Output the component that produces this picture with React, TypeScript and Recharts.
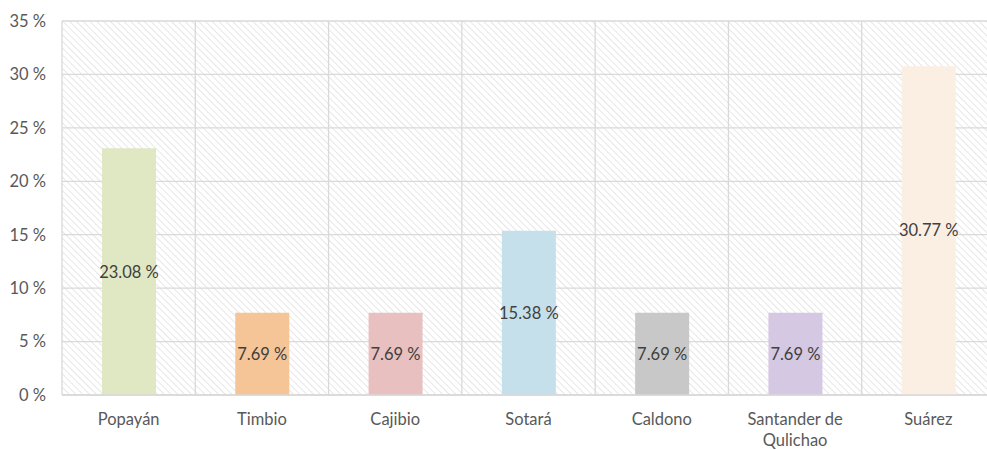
import React from "react";
import { BarChart, Bar, XAxis, YAxis, CartesianGrid, Cell, LabelList } from "recharts";

const categories = ["Popayán", "Timbio", "Cajibio", "Sotará", "Caldono", "Santander de Qulichao", "Suárez"];
const values = [23.08, 7.69, 7.69, 15.38, 7.69, 7.69, 30.77];
const colors = ["#DFE7C3", "#F5C497", "#E8C0BF", "#C5E0EA", "#C8C8C8", "#D5C8E2", "#FBEEE3"];
const yTicks = [0, 5, 10, 15, 20, 25, 30, 35];

const data = categories.map((name, i) => ({ name, value: values[i] }));

const FONT = "Lato, 'Open Sans', sans-serif";

function wrapWords(text: string, maxChars: number): string[] {
  const words = text.split(" ");
  const lines: string[] = [];
  let cur = "";
  for (const w of words) {
    const next = cur ? cur + " " + w : w;
    if (next.length > maxChars && cur) {
      lines.push(cur);
      cur = w;
    } else {
      cur = next;
    }
  }
  if (cur) lines.push(cur);
  return lines;
}

const XTick = (props: any) => {
  const { x, y, payload } = props;
  const lines = wrapWords(String(payload.value), 14);
  return (
    <text x={x} y={y} textAnchor="middle" fill="#595959" fontSize={16.5} fontFamily={FONT}>
      {lines.map((l, i) => (
        <tspan key={i} x={x} dy={i === 0 ? 30 : 21}>
          {l}
        </tspan>
      ))}
    </text>
  );
};

export default function App() {
  return (
    <div style={{ position: "fixed", left: 0, top: 0, width: 987, height: 450, overflow: "hidden", background: "#fff" }}>
      <style>{"html,body{margin:0;padding:0;overflow:hidden}"}</style>
      <BarChart
        width={987}
        height={450}
        data={data}
        margin={{ top: 21, right: -8, bottom: 0, left: 0 }}
        barSize={54}
        style={{ overflow: "visible" }}
      >
        <defs>
          <pattern id="hatch" width="4.8" height="4.8" patternUnits="userSpaceOnUse" patternTransform="rotate(-45)">
            <rect width="4.8" height="4.8" fill="#ffffff" />
            <line x1="0" y1="0" x2="0" y2="4.8" stroke="#E0E0E0" strokeWidth="1.5" />
          </pattern>
        </defs>
        <CartesianGrid
          fill="url(#hatch)"
          stroke="#D9D9D9"
          strokeWidth={1.3}
          verticalCoordinatesGenerator={({ offset }: any) =>
            Array.from({ length: categories.length + 1 }, (_, i) => offset.left + (i * offset.width) / categories.length)
          }
        />
        <XAxis
          dataKey="name"
          interval={0}
          tickLine={false}
          tickSize={0}
          tickMargin={0}
          axisLine={{ stroke: "#D9D9D9", strokeWidth: 1.5 }}
          height={55}
          tick={<XTick />}
        />
        <YAxis
          width={62}
          domain={[0, 35]}
          ticks={yTicks}
          interval={0}
          axisLine={false}
          tickLine={false}
          tickSize={0}
          tickMargin={16}
          tickFormatter={(v: number) => `${v} %`}
          tick={{ fill: "#595959", fontSize: 16.5, fontFamily: FONT }}
        />
        <Bar dataKey="value" isAnimationActive={false}>
          {data.map((d, i) => (
            <Cell key={d.name} fill={colors[i]} />
          ))}
          <LabelList
            dataKey="value"
            position="center"
            formatter={(v: any) => `${Number(v).toFixed(2)} %`}
            fill="#404040"
            fontSize={16.5}
            fontFamily={FONT}
          />
        </Bar>
      </BarChart>
    </div>
  );
}
